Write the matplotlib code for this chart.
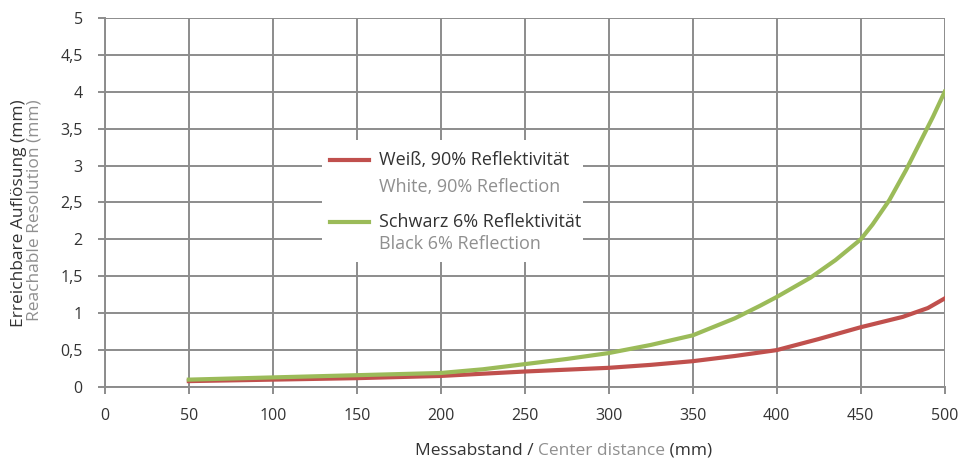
import numpy as np
import matplotlib.pyplot as plt
from matplotlib.patches import Rectangle
from matplotlib.lines import Line2D

plt.rcParams['font.family'] = ['Open Sans', 'DejaVu Sans']

dist_white = [50, 100, 150, 200, 250, 300, 325, 350, 375, 400, 425, 450, 475, 490, 500]
white_90 = [0.08, 0.10, 0.12, 0.15, 0.21, 0.26, 0.30, 0.35, 0.42, 0.50, 0.65, 0.81, 0.95, 1.07, 1.20]

dist_black = [50, 100, 150, 200, 225, 250, 275, 300, 325, 350, 375, 390, 400, 420, 435,
              450, 457, 467, 477, 485, 493, 500]
black_6 = [0.10, 0.13, 0.16, 0.19, 0.24, 0.31, 0.38, 0.46, 0.57, 0.70, 0.93, 1.10, 1.22, 1.48, 1.72,
           2.00, 2.20, 2.53, 2.94, 3.30, 3.66, 4.00]

x_ticks = list(range(0, 501, 50))
y_ticks = [0, 0.5, 1, 1.5, 2, 2.5, 3, 3.5, 4, 4.5, 5]
y_tick_labels = ['0', '0,5', '1', '1,5', '2', '2,5', '3', '3,5', '4', '4,5', '5']

RED = '#c0504d'
GREEN = '#9bbb59'
GRID = '#8c8c8c'
DARK = '#333333'
GREY = '#8f8f8f'

fig = plt.figure(figsize=(9.62, 4.61), dpi=100)
ax = fig.add_axes([0.109, 0.1605, 0.873, 0.8005])

ax.plot(dist_white, white_90, color=RED, lw=3, solid_joinstyle='round', zorder=3)
ax.plot(dist_black, black_6, color=GREEN, lw=3, solid_joinstyle='round', zorder=3)

ax.set_xlim(0, 500)
ax.set_ylim(0, 5)
ax.set_xticks(x_ticks)
ax.set_yticks(y_ticks)
ax.set_yticklabels(y_tick_labels)
ax.grid(True, color=GRID, lw=1.4)
ax.set_axisbelow(True)
for side in ['top', 'right']:
    ax.spines[side].set_visible(False)
for side in ['left', 'bottom']:
    ax.spines[side].set_color(GRID)
    ax.spines[side].set_linewidth(1.4)
ax.tick_params(axis='both', colors=GRID, width=1.4, length=5, labelsize=11.5, labelcolor=DARK)
ax.tick_params(axis='x', pad=10)
ax.tick_params(axis='y', pad=11)

# legend box drawn by hand (two-colour labels)
ax.add_patch(Rectangle((0.258, 0.339), 0.311, 0.33, transform=ax.transAxes,
                       facecolor='white', edgecolor='none', zorder=4))
entries = [(RED, 'Weiß, 90% Reflektivität', 'White, 90% Reflection', 0.615, 0.542),
           (GREEN, 'Schwarz 6% Reflektivität', 'Black 6% Reflection', 0.447, 0.388)]
for color, de, en, y_de, y_en in entries:
    ax.add_line(Line2D([0.268, 0.315], [y_de, y_de], transform=ax.transAxes,
                       color=color, lw=3, zorder=5))
    ax.text(0.327, y_de, de, transform=ax.transAxes, fontsize=13, color=DARK,
            va='center', zorder=5)
    ax.text(0.327, y_en, en, transform=ax.transAxes, fontsize=13, color=GREY,
            va='center', zorder=5)

# y label, two lines
fig.text(0.020, 0.538, 'Erreichbare Auflösung (mm)', rotation=90, fontsize=12.5,
         color=DARK, ha='center', va='center')
fig.text(0.036, 0.544, 'Reachable Resolution (mm)', rotation=90, fontsize=12.5,
         color=GREY, ha='center', va='center')

# x label, mixed colours
t1 = fig.text(0.431, 0.014, 'Messabstand / ', fontsize=12.5, color=DARK, ha='left', va='baseline')
t2 = ax.annotate('Center distance', xy=(1, 0), xycoords=t1, fontsize=12.5,
                 color=GREY, ha='left', va='bottom', annotation_clip=False)
ax.annotate(' (mm)', xy=(1, 0), xycoords=t2, fontsize=12.5,
            color=DARK, ha='left', va='bottom', annotation_clip=False)

fig.savefig('out.png', dpi=100)
